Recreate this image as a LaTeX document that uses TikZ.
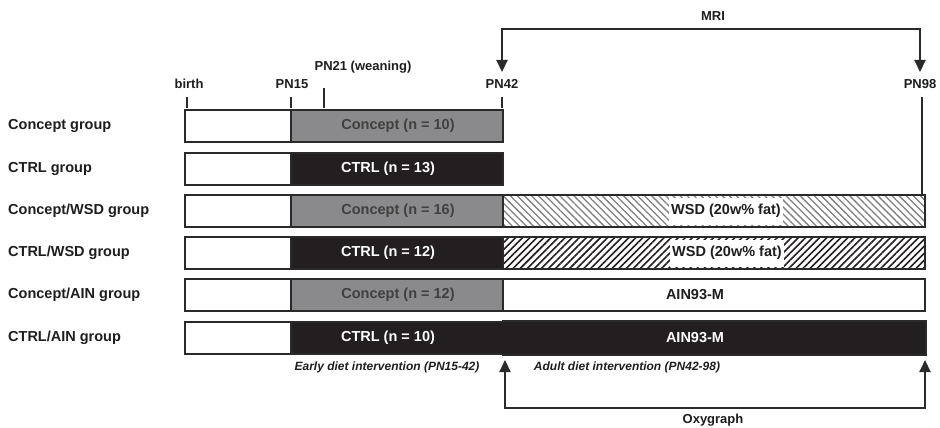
\documentclass[tikz,border=0pt]{standalone}
\usepackage{fontspec}
\setmainfont{Liberation Sans}
\usepackage{xcolor}
\usetikzlibrary{arrows.meta,patterns.meta}

\definecolor{edgecol}{HTML}{2A2A2A}
\definecolor{concol}{HTML}{8A8A8C}
\definecolor{ctrlcol}{HTML}{231F20}
\definecolor{txtcol}{HTML}{1E1E1E}

\begin{document}
\begin{tikzpicture}[
x=1pt, y=-1pt,
grouplabel/.style={anchor=west, inner sep=0pt, text=txtcol, font=\fontsize{14.5}{17}\selectfont\bfseries},
ticklabel/.style={text=txtcol, inner sep=1pt, font=\fontsize{13}{15}\selectfont\bfseries},
bartext/.style={inner sep=2pt, font=\fontsize{14.5}{17}\selectfont\bfseries},
seg/.style={draw=edgecol, line width=2pt, minimum height=32pt, inner sep=0pt},
pre/.style={seg, fill=white, minimum width=106pt},
early/.style={seg, minimum width=212pt},
adult/.style={seg, minimum width=422pt},
tick/.style={edgecol, line width=2pt},
conn/.style={edgecol, line width=2pt, {Triangle[width=11pt,length=12pt]}-{Triangle[width=11pt,length=12pt]}},
note/.style={text=txtcol, font=\fontsize{12}{14}\selectfont\bfseries\itshape}
]

\fill[white] (0,0) rectangle (940,428);

% time points
\node[ticklabel] (birth) at (189,84) {birth};
\node[ticklabel] (pn15) at (292,84) {PN15};
\node[ticklabel] (pn21) at (363,67) {PN21 (weaning)};
\node[ticklabel] (pn42) at (502,84) {PN42};
\node[ticklabel] (pn98) at (920,84) {PN98};

\draw[tick] (187,97) -- (187,108);
\draw[tick] (291,97) -- (291,108);
\draw[tick] (324,88) -- (324,108);
\draw[tick] (502,97) -- (502,108);
\draw[tick] (922,97) -- (922,194);

% groups
\node[grouplabel] (g1) at (8,126) {Concept group};
\node[grouplabel] (g2) at (8,169) {CTRL group};
\node[grouplabel] (g3) at (8,211) {Concept/WSD group};
\node[grouplabel] (g4) at (8,253) {CTRL/WSD group};
\node[grouplabel] (g5) at (8,295) {Concept/AIN group};
\node[grouplabel] (g6) at (8,338) {CTRL/AIN group};

% bars
\node[pre] (p1) at (238,126) {};
\node[early, fill=concol] (e1) at (397,126) {};
\node[bartext, text=txtcol!85] (t1) at (398,126) {Concept (n = 10)};

\node[pre] (p2) at (238,169) {};
\node[early, fill=ctrlcol] (e2) at (397,169) {};
\node[bartext, text=white] (t2) at (388,169) {CTRL (n = 13)};

\node[pre] (p3) at (238,211) {};
\node[early, fill=concol] (e3) at (397,211) {};
\node[adult, pattern={Lines[angle=-45,distance=5pt,line width=1.3pt]}, pattern color=gray] (a3) at (714,211) {};
\node[bartext, text=txtcol!85] (t3) at (398,211) {Concept (n = 16)};
\node[bartext, fill=white, text=txtcol, minimum height=27pt] (w3) at (726,211) {WSD (20w\% fat)};

\node[pre] (p4) at (238,253) {};
\node[early, fill=ctrlcol] (e4) at (397,253) {};
\node[adult, pattern={Lines[angle=45,distance=5pt,line width=1.6pt]}, pattern color=ctrlcol] (a4) at (714,253) {};
\node[bartext, text=white] (t4) at (388,253) {CTRL (n = 12)};
\node[bartext, fill=white, text=txtcol, minimum height=27pt] (w4) at (727,253) {WSD (20w\% fat)};

\node[pre] (p5) at (238,295) {};
\node[early, fill=concol] (e5) at (397,295) {};
\node[adult, fill=white] (a5) at (714,295) {};
\node[bartext, text=txtcol!85] (t5) at (398,295) {Concept (n = 12)};
\node[bartext, text=txtcol] (d5) at (695,295) {AIN93-M};

\node[pre] (p6) at (238,338) {};
\node[early, fill=ctrlcol] (e6) at (397,338) {};
\node[adult, fill=ctrlcol, draw=ctrlcol] (a6) at (714,338) {};
\draw[edgecol, line width=2pt] (a6.south west) -| (a6.north east) -- (a6.north west);
\node[bartext, text=white] (t6) at (388,338) {CTRL (n = 10)};
\node[bartext, text=white] (d6) at (695,338) {AIN93-M};

% interventions
\node[note] (early) at (387,367) {Early diet intervention (PN15-42)};
\node[note] (adult) at (627,367) {Adult diet intervention (PN42-98)};

% measurements
\node[ticklabel] (mri) at (713,16) {MRI};
\coordinate (mriL) at (502,72);
\coordinate (mriR) at (920,72);
\coordinate (mriM) at (713,29);
\draw[conn] (mriL) |- (mriM) -| (mriR);

\node[ticklabel] (oxy) at (713,420) {Oxygraph};
\coordinate (oxL) at (505,360);
\coordinate (oxR) at (925,360);
\coordinate (oxM) at (713,408);
\draw[conn] (oxL) |- (oxM) -| (oxR);

\end{tikzpicture}
\end{document}
